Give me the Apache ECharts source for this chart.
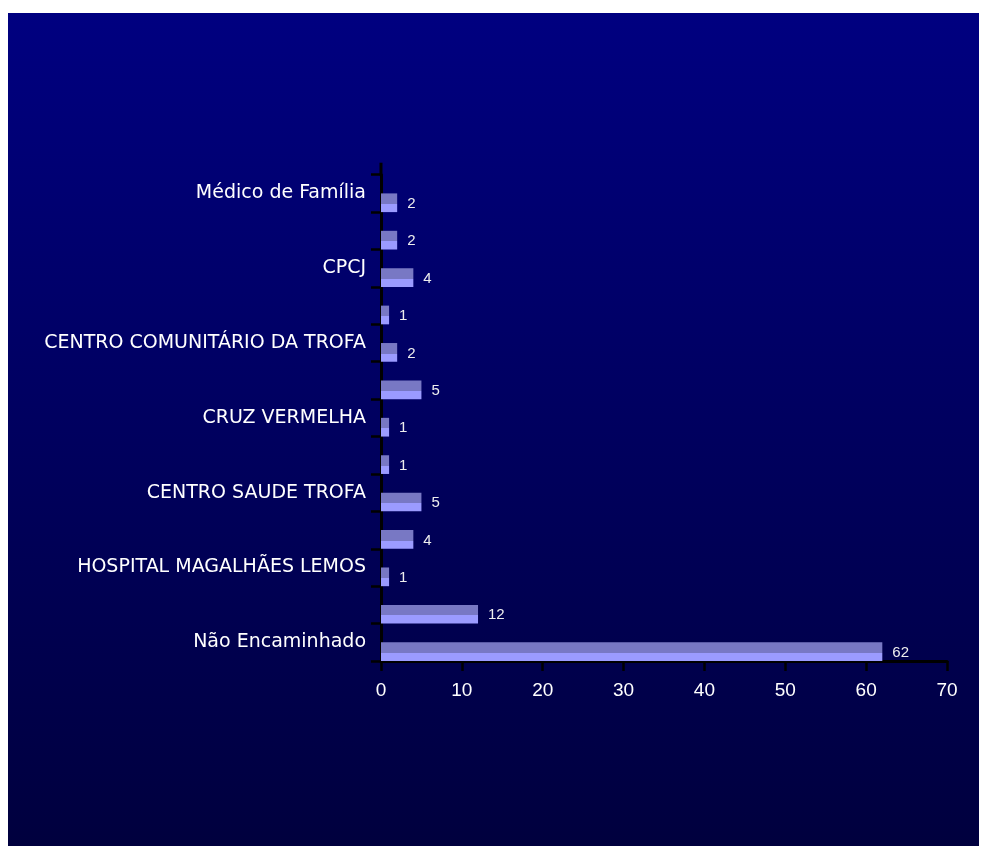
<!DOCTYPE html>
<html>
<head>
<meta charset="utf-8">
<script src="https://cdn.jsdelivr.net/npm/echarts@6/dist/echarts.min.js"></script>
<style>
  html, body { margin: 0; padding: 0; background: #ffffff; width: 981px; height: 846px; overflow: hidden; }
  #bg { position: absolute; left: 8px; top: 13px; width: 971px; height: 833px;
        background: linear-gradient(to bottom, #000080 0%, #00003e 100%); }
  #chart { position: absolute; left: 0; top: 0; width: 981px; height: 846px; }
</style>
</head>
<body>
<div id="bg"></div>
<div id="chart"></div>
<script>
// Categories listed bottom to top (only every other one is labelled in the original)
const categories = [
  'Não Encaminhado', ' ', 'HOSPITAL MAGALHÃES LEMOS', '  ', 'CENTRO SAUDE TROFA', '   ',
  'CRUZ VERMELHA', '    ', 'CENTRO COMUNITÁRIO DA TROFA', '     ', 'CPCJ', '      ', 'Médico de Família'
];
const values = [62, 12, 1, 4, 5, 1, 1, 5, 2, 1, 4, 2, 2];
const xTicks = { min: 0, max: 70, interval: 10 };

const G = { left: 381, top: 174.7, width: 566, height: 486.3 };

const chart = echarts.init(document.getElementById('chart'), null, { renderer: 'canvas' });
chart.setOption({
  backgroundColor: 'transparent',
  animation: false,
  grid: { left: G.left, top: G.top, width: G.width, height: G.height, containLabel: false },
  xAxis: {
    type: 'value',
    min: xTicks.min, max: xTicks.max, interval: xTicks.interval,
    splitLine: { show: false },
    axisLine: { show: true, lineStyle: { color: '#000000', width: 3 } },
    axisTick: { show: true, length: 10, lineStyle: { color: '#000000', width: 2.5 } },
    axisLabel: { color: '#ffffff', fontFamily: 'Arial', fontSize: 19, margin: 20 }
  },
  yAxis: {
    type: 'category',
    data: categories,
    axisLine: { show: true, lineStyle: { color: '#000000', width: 3 } },
    axisTick: { show: true, interval: 0, length: 10, alignWithLabel: false, lineStyle: { color: '#000000', width: 2.5 } },
    axisLabel: { interval: 1, color: '#ffffff', fontFamily: 'DejaVu Sans', fontSize: 19, margin: 15 }
  },
  graphic: [{
    type: 'line', silent: true,
    shape: { x1: G.left, y1: G.top - 12, x2: G.left, y2: G.top + 1 },
    style: { stroke: '#000000', lineWidth: 3 }
  }],
  series: [
    {
      type: 'bar', name: 'spacer', data: values, silent: true,
      barGap: '0%', barCategoryGap: '0%',
      itemStyle: { color: 'rgba(0,0,0,0)' },
      label: { show: false }
    },
    {
      type: 'bar', name: 'valor', data: values,
      barGap: '0%', barCategoryGap: '0%',
      itemStyle: {
        color: new echarts.graphic.LinearGradient(0, 0, 0, 1, [
          { offset: 0, color: '#7878c4' },
          { offset: 0.56, color: '#7878c4' },
          { offset: 0.56, color: '#9b9bff' },
          { offset: 1, color: '#9b9bff' }
        ])
      },
      label: {
        show: true, position: 'right', distance: 10,
        color: '#eeeeee', fontFamily: 'Arial', fontSize: 15,
        offset: [0, 1]
      }
    }
  ]
});
</script>
</body>
</html>
